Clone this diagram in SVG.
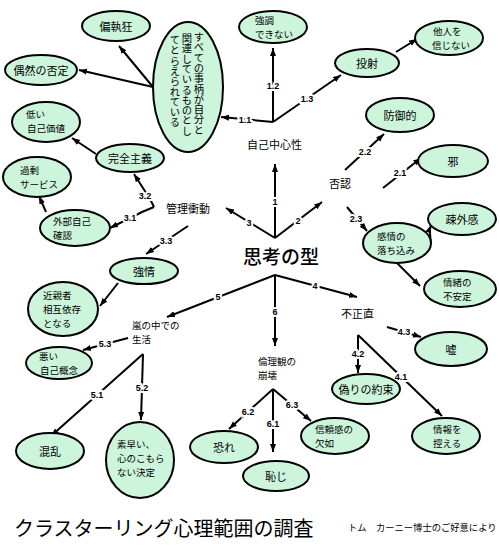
<svg xmlns="http://www.w3.org/2000/svg" width="500" height="550" viewBox="0 0 500 550">
<style>
.n{fill:#ccf5dc;stroke:#000;stroke-width:2}
.t{font-family:"Noto Sans CJK JP","Noto Sans",sans-serif;font-size:11px;fill:#000;dominant-baseline:central}
.m{font-size:9.5px}
.c{text-anchor:middle}
.l{font-family:"Liberation Sans",Arial,sans-serif;font-weight:bold;font-size:9px;fill:#000;text-anchor:middle;dominant-baseline:central;stroke:#fff;stroke-width:4;paint-order:stroke}
.e{fill:none;stroke:#000;stroke-width:2}
.v{writing-mode:vertical-rl;font-size:10.3px;dominant-baseline:auto}
</style>
<defs>
<marker id="a" markerUnits="userSpaceOnUse" markerWidth="9" markerHeight="7" refX="8" refY="3.5" orient="auto">
<path d="M0,0.5 L8,3.5 L0,6.5 z" fill="#000"/>
</marker>
</defs>
<rect width="500" height="550" fill="#fff"/>

<g id="connectors">
<path class="e" d="M275,238 L275,164" marker-end="url(#a)"/>
<path class="e" d="M275,238 L322,202" marker-end="url(#a)"/>
<path class="e" d="M275,238 L226,208" marker-end="url(#a)"/>
<path class="e" d="M275,275 L357,297" marker-end="url(#a)"/>
<path class="e" d="M275,275 L167,317" marker-end="url(#a)"/>
<path class="e" d="M275,275 L275,346" marker-end="url(#a)"/>
<path class="e" d="M273,122 L221,117" marker-end="url(#a)"/>
<path class="e" d="M273,122 L273,48" marker-end="url(#a)"/>
<path class="e" d="M273,122 L341,75" marker-end="url(#a)"/>
<path class="e" d="M396,52 L417,39" marker-end="url(#a)"/>
<path class="e" d="M153,87 L119,46" marker-end="url(#a)"/>
<path class="e" d="M153,87 L79,70" marker-end="url(#a)"/>
<path class="e" d="M345,170 L384,134" marker-end="url(#a)"/>
<path class="e" d="M383,188 L421,158" marker-end="url(#a)"/>
<path class="e" d="M347,207 L367,231" marker-end="url(#a)"/>
<path class="e" d="M430,246 C432,236 428,233 431,225" marker-end="url(#a)"/>
<path class="e" d="M397,263 L420,286" marker-end="url(#a)"/>
<path class="e" d="M154,207 L150,199 L134,174" marker-end="url(#a)"/>
<path class="e" d="M154,207 L142,212 L110,228" marker-end="url(#a)"/>
<path class="e" d="M188,226 L146,254" marker-end="url(#a)"/>
<path class="e" d="M118,283 L100,306" marker-end="url(#a)"/>
<path class="e" d="M96,154 L72,138" marker-end="url(#a)"/>
<path class="e" d="M46,212 L39,196" marker-end="url(#a)"/>
<path class="e" d="M128,338 L83,350" marker-end="url(#a)"/>
<path class="e" d="M143,354 L51,436" marker-end="url(#a)"/>
<path class="e" d="M143,354 L141,420" marker-end="url(#a)"/>
<path class="e" d="M387,327 L421,337" marker-end="url(#a)"/>
<path class="e" d="M358,335 L358,373" marker-end="url(#a)"/>
<path class="e" d="M358,335 L442,416" marker-end="url(#a)"/>
<path class="e" d="M273,389 L229,429" marker-end="url(#a)"/>
<path class="e" d="M273,389 L273,452" marker-end="url(#a)"/>
<path class="e" d="M273,389 L311,421" marker-end="url(#a)"/>
<text class="l" x="275" y="202">1</text>
<text class="l" x="298" y="221">2</text>
<text class="l" x="249" y="223">3</text>
<text class="l" x="315" y="286">4</text>
<text class="l" x="218" y="297">5</text>
<text class="l" x="275" y="312">6</text>
<text class="l" x="245" y="120">1.1</text>
<text class="l" x="273" y="86">1.2</text>
<text class="l" x="307" y="99">1.3</text>
<text class="l" x="400" y="173">2.1</text>
<text class="l" x="365" y="152">2.2</text>
<text class="l" x="356" y="219">2.3</text>
<text class="l" x="130" y="218">3.1</text>
<text class="l" x="145" y="196">3.2</text>
<text class="l" x="166" y="241">3.3</text>
<text class="l" x="401" y="377">4.1</text>
<text class="l" x="358" y="354">4.2</text>
<text class="l" x="404" y="332">4.3</text>
<text class="l" x="97" y="395">5.1</text>
<text class="l" x="142" y="388">5.2</text>
<text class="l" x="105" y="344">5.3</text>
<text class="l" x="273" y="424">6.1</text>
<text class="l" x="248" y="412">6.2</text>
<text class="l" x="292" y="405">6.3</text>
</g>

<g id="n-henshu"><ellipse class="n" cx="116" cy="26" rx="34" ry="15"/><text class="t c" x="116" y="26">偏執狂</text></g>
<g id="n-guzen"><ellipse class="n" cx="41" cy="70" rx="36" ry="15"/><text class="t c" x="41" y="70">偶然の否定</text></g>
<g id="n-subete"><ellipse class="n" cx="188" cy="87" rx="35" ry="65"/>
<text class="t v"><tspan x="199" y="32">すべての事柄が自分と</tspan><tspan x="187" y="33">関連しているものとし</tspan><tspan x="175" y="35">てとらえられている</tspan></text></g>
<g id="n-kyocho"><ellipse class="n" cx="273" cy="27" rx="34" ry="16"/><text class="t m"><tspan x="255" y="20">強調</tspan><tspan x="255" y="34">できない</tspan></text></g>
<g id="n-tosha"><ellipse class="n" cx="367" cy="63" rx="32" ry="14"/><text class="t c" x="367" y="63">投射</text></g>
<g id="n-tanin"><ellipse class="n" cx="449" cy="38" rx="34" ry="17"/><text class="t m"><tspan x="433" y="31">他人を</tspan><tspan x="432" y="45">信じない</tspan></text></g>
<g id="n-hikui"><ellipse class="n" cx="46" cy="122" rx="34" ry="20"/><text class="t m"><tspan x="26" y="114">低い</tspan><tspan x="27" y="128">自己価値</tspan></text></g>
<g id="n-kanzen"><ellipse class="n" cx="130" cy="158" rx="34" ry="14"/><text class="t c" x="130" y="158">完全主義</text></g>
<g id="n-kajo"><ellipse class="n" cx="37" cy="177" rx="34" ry="20"/><text class="t m"><tspan x="20" y="170">過剰</tspan><tspan x="20" y="184">サービス</tspan></text></g>
<g id="n-gaibu"><ellipse class="n" cx="75" cy="228" rx="35" ry="18"/><text class="t m"><tspan x="53" y="221">外部自己</tspan><tspan x="53" y="235">確認</tspan></text></g>
<g id="n-bogyo"><ellipse class="n" cx="400" cy="115" rx="34" ry="17"/><text class="t c" x="400" y="115">防御的</text></g>
<g id="n-ja"><ellipse class="n" cx="453" cy="161" rx="35" ry="16"/><text class="t c" x="453" y="161">邪</text></g>
<g id="n-sogai"><ellipse class="n" cx="462" cy="219" rx="34" ry="16"/><text class="t c" x="462" y="219">疎外感</text></g>
<g id="n-kanjo"><ellipse class="n" cx="397" cy="243" rx="34" ry="20"/><text class="t m"><tspan x="377" y="236">感情の</tspan><tspan x="377" y="250">落ち込み</tspan></text></g>
<g id="n-jocho"><ellipse class="n" cx="460" cy="289" rx="36" ry="18"/><text class="t m"><tspan x="443" y="282">情緒の</tspan><tspan x="443" y="296">不安定</tspan></text></g>
<g id="n-gojo"><ellipse class="n" cx="144" cy="271" rx="34" ry="13"/><text class="t c" x="144" y="271">強情</text></g>
<g id="n-kinshin"><ellipse class="n" cx="63" cy="309" rx="35" ry="27"/><text class="t m"><tspan x="43" y="295">近親者</tspan><tspan x="43" y="309">相互依存</tspan><tspan x="43" y="323">となる</tspan></text></g>
<g id="n-warui"><ellipse class="n" cx="59" cy="363" rx="33" ry="16"/><text class="t m"><tspan x="39" y="356">悪い</tspan><tspan x="40" y="370">自己概念</tspan></text></g>
<g id="n-uso"><ellipse class="n" cx="451" cy="349" rx="36" ry="17"/><text class="t c" x="451" y="349">嘘</text></g>
<g id="n-itsuwari"><ellipse class="n" cx="366" cy="389" rx="34" ry="15"/><text class="t c" x="366" y="389">偽りの約束</text></g>
<g id="n-konran"><ellipse class="n" cx="50" cy="451" rx="34" ry="18"/><text class="t c" x="50" y="451">混乱</text></g>
<g id="n-subayai"><ellipse class="n" cx="140" cy="460" rx="34" ry="38"/><text class="t m"><tspan x="117" y="444">素早い、</tspan><tspan x="117" y="458">心のこもら</tspan><tspan x="117" y="472">ない決定</tspan></text></g>
<g id="n-osore"><ellipse class="n" cx="224" cy="447" rx="34" ry="16"/><text class="t c" x="224" y="447">恐れ</text></g>
<g id="n-haji"><ellipse class="n" cx="276" cy="476" rx="33" ry="15"/><text class="t c" x="276" y="476">恥じ</text></g>
<g id="n-shinrai"><ellipse class="n" cx="335" cy="436" rx="34" ry="18"/><text class="t m"><tspan x="315" y="429">信頼感の</tspan><tspan x="315" y="443">欠如</tspan></text></g>
<g id="n-joho"><ellipse class="n" cx="446" cy="436" rx="34" ry="18"/><text class="t m"><tspan x="433" y="429">情報を</tspan><tspan x="433" y="443">控える</tspan></text></g>

<g id="labels">
<text class="t" x="247" y="144">自己中心性</text>
<text class="t" x="329" y="183">否認</text>
<text class="t" x="166" y="208">管理衝動</text>
<text class="t" x="243" y="255" style="font-size:19px;font-weight:500">思考の型</text>
<text class="t m"><tspan x="132" y="325">嵐の中での</tspan><tspan x="132" y="339">生活</tspan></text>
<text class="t" x="341" y="313">不正直</text>
<text class="t m"><tspan x="258" y="361">倫理観の</tspan><tspan x="258" y="375">崩壊</tspan></text>
<text class="t" x="14" y="527" style="font-size:20px">クラスターリング心理範囲の調査</text>
<text class="t" x="348" y="527" style="font-size:9.3px">トム　カーニー博士のご好意により</text>
</g>
</svg>
